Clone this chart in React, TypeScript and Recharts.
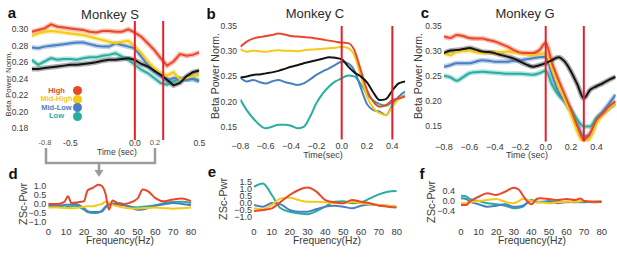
import React from "react";
import { LineChart, Line, XAxis, YAxis, ReferenceLine } from "recharts";

// colours of the four conditions, the mean trace and the event markers
const HIGH = "#ea4728";
const MID_HIGH = "#f5c916";
const MID_LOW = "#4a7fc3";
const LOW = "#28aea0";
const MEAN = "#141414";
const MARK = "#e2202b";

// ---- time courses (sec) ----
const timeAB = [
  -0.8, -0.75, -0.7, -0.65, -0.6, -0.55, -0.5, -0.45, -0.4, -0.35, -0.3, -0.25, -0.2, -0.15,
  -0.1, -0.05, 0, 0.05, 0.1, 0.15, 0.2, 0.25, 0.3, 0.35, 0.4, 0.45, 0.5,
];
const timeC = [
  -0.8, -0.75, -0.7, -0.65, -0.6, -0.55, -0.5, -0.45, -0.4, -0.35, -0.3, -0.25, -0.2, -0.15,
  -0.1, -0.05, 0, 0.05, 0.1, 0.15, 0.2, 0.25, 0.3, 0.35, 0.4, 0.45, 0.5, 0.55,
];

// Monkey S
const sHigh = [0.297, 0.299, 0.301, 0.306, 0.303, 0.302, 0.301, 0.3, 0.299, 0.297, 0.296, 0.298, 0.298, 0.297, 0.297, 0.3, 0.296, 0.291, 0.283, 0.275, 0.265, 0.256, 0.261, 0.27, 0.268, 0.269, 0.272];
const sMidHigh = [0.292, 0.295, 0.297, 0.298, 0.297, 0.296, 0.295, 0.294, 0.293, 0.291, 0.289, 0.287, 0.285, 0.283, 0.285, 0.286, 0.279, 0.271, 0.261, 0.253, 0.247, 0.244, 0.248, 0.239, 0.241, 0.243, 0.245];
const sMidLow = [0.278, 0.277, 0.279, 0.28, 0.281, 0.282, 0.283, 0.284, 0.284, 0.282, 0.28, 0.279, 0.279, 0.283, 0.281, 0.279, 0.277, 0.267, 0.257, 0.249, 0.243, 0.238, 0.241, 0.24, 0.239, 0.24, 0.237];
const sLow = [0.263, 0.257, 0.261, 0.265, 0.263, 0.264, 0.264, 0.263, 0.265, 0.266, 0.266, 0.268, 0.269, 0.271, 0.267, 0.263, 0.257, 0.251, 0.247, 0.241, 0.235, 0.233, 0.237, 0.24, 0.239, 0.24, 0.238];
const sMean = [0.252, 0.252, 0.253, 0.254, 0.255, 0.256, 0.257, 0.257, 0.258, 0.259, 0.26, 0.262, 0.263, 0.263, 0.264, 0.265, 0.263, 0.258, 0.255, 0.25, 0.245, 0.239, 0.232, 0.235, 0.243, 0.248, 0.25];

// Monkey C
const cHigh = [0.309, 0.319, 0.325, 0.328, 0.33, 0.332, 0.335, 0.333, 0.33, 0.329, 0.328, 0.327, 0.325, 0.323, 0.321, 0.319, 0.317, 0.316, 0.302, 0.263, 0.223, 0.2, 0.19, 0.193, 0.203, 0.206, 0.21];
const cMidHigh = [0.304, 0.299, 0.301, 0.3, 0.299, 0.301, 0.302, 0.301, 0.301, 0.3, 0.302, 0.303, 0.304, 0.305, 0.306, 0.307, 0.309, 0.306, 0.292, 0.252, 0.21, 0.187, 0.177, 0.173, 0.19, 0.205, 0.212];
const cMidLow = [0.248, 0.24, 0.243, 0.239, 0.236, 0.24, 0.243, 0.239, 0.236, 0.233, 0.236, 0.244, 0.253, 0.26, 0.266, 0.273, 0.279, 0.276, 0.262, 0.228, 0.195, 0.183, 0.18, 0.173, 0.193, 0.21, 0.22];
const cLow = [0.204, 0.183, 0.167, 0.154, 0.147, 0.15, 0.154, 0.154, 0.152, 0.147, 0.15, 0.17, 0.197, 0.216, 0.23, 0.24, 0.246, 0.252, 0.25, 0.235, 0.215, 0.202, 0.195, 0.192, 0.199, 0.207, 0.213];
const cMean = [0.248, 0.25, 0.253, 0.254, 0.256, 0.258, 0.261, 0.265, 0.269, 0.272, 0.276, 0.279, 0.282, 0.285, 0.288, 0.287, 0.284, 0.27, 0.258, 0.25, 0.238, 0.218, 0.203, 0.205, 0.222, 0.236, 0.24];

// Monkey G
const gHigh = [0.329, 0.326, 0.332, 0.33, 0.326, 0.325, 0.325, 0.322, 0.319, 0.314, 0.309, 0.302, 0.297, 0.296, 0.296, 0.302, 0.316, 0.276, 0.243, 0.213, 0.183, 0.15, 0.123, 0.137, 0.163, 0.176, 0.19, 0.2];
const gMidHigh = [0.296, 0.292, 0.299, 0.3, 0.301, 0.298, 0.296, 0.297, 0.297, 0.298, 0.299, 0.297, 0.296, 0.294, 0.292, 0.294, 0.296, 0.263, 0.23, 0.203, 0.173, 0.14, 0.118, 0.127, 0.157, 0.173, 0.186, 0.196];
const gMidLow = [0.269, 0.272, 0.276, 0.276, 0.276, 0.279, 0.282, 0.281, 0.279, 0.279, 0.279, 0.281, 0.282, 0.284, 0.286, 0.288, 0.289, 0.253, 0.219, 0.2, 0.18, 0.153, 0.13, 0.133, 0.163, 0.18, 0.196, 0.213];
const gLow = [0.251, 0.248, 0.241, 0.248, 0.256, 0.258, 0.259, 0.258, 0.257, 0.256, 0.255, 0.255, 0.255, 0.254, 0.253, 0.256, 0.261, 0.233, 0.213, 0.2, 0.183, 0.163, 0.15, 0.15, 0.167, 0.176, 0.186, 0.195];
const gMean = [0.296, 0.301, 0.302, 0.304, 0.306, 0.303, 0.299, 0.298, 0.296, 0.292, 0.289, 0.285, 0.279, 0.273, 0.269, 0.272, 0.276, 0.282, 0.288, 0.279, 0.259, 0.233, 0.206, 0.223, 0.23, 0.236, 0.243, 0.249];

// ---- spectra, z-scored power ----
const freqS = [0, 5, 9, 11, 13, 15, 20, 22, 25, 28, 30, 32, 34, 36, 40, 45, 50, 53, 56, 60, 65, 70, 75, 80];
const zsHigh = [0.0, 0.0, 0.12, 0.43, 0.05, 0.08, 0.15, 0.75, 0.9, 1.07, 1.0, 0.6, -0.32, 0.2, -0.02, 0.05, 0.3, 0.8, 0.7, 0.33, 0.15, 0.25, 0.3, 0.15];
const zsMidHigh = [-0.19, -0.19, -0.22, -0.23, -0.23, -0.23, -0.15, -0.13, -0.13, -0.05, 0.0, 0.12, 0.1, -0.05, -0.15, -0.23, -0.25, -0.23, -0.22, -0.2, -0.23, -0.26, -0.23, -0.19];
const zsMidLow = [-0.07, -0.1, -0.05, -0.04, -0.02, 0.0, -0.23, -0.4, -0.45, -0.45, -0.42, -0.2, 0.0, 0.0, -0.04, -0.13, -0.32, -0.3, -0.23, -0.1, -0.02, 0.06, 0.0, -0.07];
const zsLow = [-0.13, -0.08, -0.19, -0.15, -0.12, -0.1, -0.32, -0.45, -0.5, -0.48, -0.37, -0.15, -0.05, 0.02, 0.06, -0.13, -0.19, -0.15, -0.13, -0.07, 0.06, 0.11, 0.13, 0.06];

const freqC = [0, 5, 10, 15, 20, 25, 30, 35, 40, 45, 50, 55, 60, 65, 70, 75, 80];
const zcHigh = [-0.57, -0.5, -0.38, 0.09, 0.57, 0.93, 1.1, 0.81, 0.21, 0.05, -0.02, 0.21, 0.09, -0.02, -0.19, -0.26, -0.33];
const zcMidHigh = [-0.38, -0.45, -0.14, 0.33, 0.38, 0.21, 0.09, 0.09, 0.05, -0.02, -0.02, 0.09, -0.02, -0.07, -0.14, -0.19, -0.26];
const zcMidLow = [-0.14, -0.26, 0.0, -0.1, -0.5, -0.62, -0.62, -0.43, -0.26, -0.19, -0.26, -0.38, -0.19, -0.1, -0.14, -0.19, -0.26];
const zcLow = [1.16, 1.4, 0.57, -0.38, -0.62, -0.74, -0.81, -0.57, -0.26, 0.09, 0.12, -0.02, 0.05, 0.33, 0.62, 0.81, 0.86];

const freqG = [0, 3, 5, 10, 15, 20, 25, 30, 33, 35, 40, 43, 45, 50, 55, 60, 65, 68, 70, 75, 80];
const zgHigh = [-0.16, -0.16, -0.03, 0.17, 0.31, 0.24, 0.37, 0.53, 0.45, 0.24, -0.13, 0.08, 0.11, 0.08, 0.04, 0.08, 0.04, 0.1, 0.0, -0.03, -0.03];
const zgMidHigh = [-0.09, -0.08, -0.05, 0.0, 0.04, 0.08, -0.03, -0.09, 0.0, 0.08, 0.0, -0.05, -0.05, -0.09, -0.05, -0.03, -0.03, -0.01, 0.0, -0.03, 0.0];
const zgMidLow = [0.11, 0.08, -0.03, -0.13, -0.23, -0.19, -0.13, -0.23, -0.22, -0.19, 0.0, -0.05, -0.05, -0.03, -0.09, -0.03, -0.05, -0.03, -0.03, -0.05, -0.03];
const zgLow = [0.21, 0.18, 0.08, 0.0, -0.09, -0.13, -0.19, -0.29, -0.27, -0.23, 0.04, -0.02, -0.03, 0.0, -0.03, -0.05, -0.03, -0.05, -0.05, -0.03, -0.03];

const legendItems = [
  { label: "High", color: HIGH },
  { label: "Mid-High", color: MID_HIGH },
  { label: "Mid-Low", color: MID_LOW },
  { label: "Low", color: LOW },
];

const SERIES = [
  { key: "low", color: LOW },
  { key: "midLow", color: MID_LOW },
  { key: "midHigh", color: MID_HIGH },
  { key: "high", color: HIGH },
];

function buildRows(x: number[], cols: Record<string, number[]>) {
  return x.map((v, i) => {
    const row: Record<string, number> = { x: v };
    for (const k of Object.keys(cols)) row[k] = cols[k][i];
    return row;
  });
}

const minus = (s: string) => s.replace("-", "\u2212");

interface PanelProps {
  left: number;
  top: number;
  width: number;
  height: number;
  margin: { top: number; right: number; bottom: number; left: number };
  yWidth: number;
  xHeight: number;
  rows: Record<string, number>[];
  xDomain: [number, number];
  xTicks: number[];
  xFmt: (v: number) => string;
  xTickMargin: number;
  xFont: number;
  yDomain: [number, number];
  yTicks: number[];
  yFmt: (v: number) => string;
  yTickMargin: number;
  yFont: number;
  marks?: number[];
  withMean?: boolean;
  halo?: boolean;
  curve?: "linear" | "monotone";
}

function Panel(p: PanelProps) {
  const series = p.withMean ? [...SERIES, { key: "mean", color: MEAN }] : SERIES;
  return (
    <div style={{ position: "absolute", left: p.left, top: p.top }}>
      <LineChart width={p.width} height={p.height} data={p.rows} margin={p.margin}>
        <XAxis
          dataKey="x"
          type="number"
          domain={p.xDomain}
          ticks={p.xTicks}
          interval={0}
          allowDataOverflow
          axisLine={false}
          tickLine={false}
          tickSize={0}
          tickMargin={p.xTickMargin}
          height={p.xHeight}
          tick={{ fontSize: p.xFont, fill: "#3a3a3a" }}
          tickFormatter={p.xFmt}
        />
        <YAxis
          type="number"
          domain={p.yDomain}
          ticks={p.yTicks}
          interval={0}
          allowDataOverflow
          axisLine={false}
          tickLine={false}
          tickSize={0}
          tickMargin={p.yTickMargin}
          width={p.yWidth}
          tick={{ fontSize: p.yFont, fill: "#3a3a3a" }}
          tickFormatter={p.yFmt}
        />
        {p.halo &&
          series.map((s) => (
            <Line
              key={`halo-${s.key}`}
              type={p.curve ?? "monotone"}
              dataKey={s.key}
              stroke={s.color}
              strokeOpacity={0.35}
              strokeWidth={5}
              dot={false}
              activeDot={false}
              isAnimationActive={false}
            />
          ))}
        {series.map((s) => (
          <Line
            key={s.key}
            type={p.curve ?? "monotone"}
            dataKey={s.key}
            stroke={s.color}
            strokeWidth={2}
            dot={false}
            activeDot={false}
            isAnimationActive={false}
          />
        ))}
        {(p.marks ?? []).map((m) => (
          <ReferenceLine key={`m${m}`} x={m} stroke={MARK} strokeWidth={2} />
        ))}
      </LineChart>
    </div>
  );
}

function Txt(props: {
  x: number;
  y: number;
  size: number;
  children: React.ReactNode;
  bold?: boolean;
  color?: string;
  rotate?: boolean;
}) {
  return (
    <div
      style={{
        position: "absolute",
        left: props.x,
        top: props.y,
        transform: `translate(-50%, -50%)${props.rotate ? " rotate(-90deg)" : ""}`,
        fontSize: props.size,
        fontWeight: props.bold ? 700 : 400,
        color: props.color ?? "#2a2a2a",
        whiteSpace: "nowrap",
        lineHeight: 1,
      }}
    >
      {props.children}
    </div>
  );
}

export default function App() {
  const rowsS = buildRows(timeAB, { high: sHigh, midHigh: sMidHigh, midLow: sMidLow, low: sLow, mean: sMean });
  const rowsC = buildRows(timeAB, { high: cHigh, midHigh: cMidHigh, midLow: cMidLow, low: cLow, mean: cMean });
  const rowsG = buildRows(timeC, { high: gHigh, midHigh: gMidHigh, midLow: gMidLow, low: gLow, mean: gMean });
  const specS = buildRows(freqS, { high: zsHigh, midHigh: zsMidHigh, midLow: zsMidLow, low: zsLow });
  const specC = buildRows(freqC, { high: zcHigh, midHigh: zcMidHigh, midLow: zcMidLow, low: zcLow });
  const specG = buildRows(freqG, { high: zgHigh, midHigh: zgMidHigh, midLow: zgMidLow, low: zgLow });

  const freqTicks = [0, 10, 20, 30, 40, 50, 60, 70, 80];
  const timeTicks = [-0.8, -0.6, -0.4, -0.2, 0, 0.2, 0.4];
  const f1 = (v: number) => minus(v.toFixed(1));
  const f2 = (v: number) => v.toFixed(2);
  const fInt = (v: number) => String(v);

  return (
    <div
      style={{
        position: "absolute",
        left: 0,
        top: 0,
        width: 617,
        height: 257,
        background: "#fff",
        overflow: "hidden",
        fontFamily: '"Liberation Sans", Arial, Helvetica, sans-serif',
      }}
    >
      {/* a */}
      <Panel
        left={0}
        top={0}
        width={206}
        height={160}
        margin={{ top: 21, right: 6.7, bottom: 0, left: 0 }}
        yWidth={31.7}
        xHeight={20}
        rows={rowsS}
        xDomain={[-0.8, 0.5]}
        xTicks={[-0.5, 0, 0.5]}
        xFmt={(v) => v.toFixed(1)}
        xTickMargin={0}
        xFont={8.5}
        yDomain={[0.166, 0.31]}
        yTicks={[0.18, 0.2, 0.22, 0.24, 0.26, 0.28, 0.3]}
        yFmt={f2}
        yTickMargin={3.5}
        yFont={8.5}
        marks={[0, 0.22]}
        withMean
        halo
        curve="linear"
      />
      {/* b */}
      <Panel
        left={200}
        top={0}
        width={210}
        height={160}
        margin={{ top: 26, right: 5, bottom: 0, left: 0 }}
        yWidth={40.4}
        xHeight={20.6}
        rows={rowsC}
        xDomain={[-0.8, 0.5]}
        xTicks={timeTicks}
        xFmt={f1}
        xTickMargin={3}
        xFont={9}
        yDomain={[0.125, 0.35]}
        yTicks={[0.15, 0.2, 0.25, 0.3, 0.35]}
        yFmt={f2}
        yTickMargin={3.4}
        yFont={8.5}
        marks={[0, 0.4]}
        withMean
        curve="monotone"
      />
      {/* c */}
      <Panel
        left={405}
        top={0}
        width={212}
        height={160}
        margin={{ top: 26, right: 1.4, bottom: 0, left: 0 }}
        yWidth={39}
        xHeight={18.5}
        rows={rowsG}
        xDomain={[-0.8, 0.55]}
        xTicks={timeTicks}
        xFmt={f1}
        xTickMargin={2}
        xFont={9}
        yDomain={[0.12, 0.35]}
        yTicks={[0.15, 0.2, 0.25, 0.3, 0.35]}
        yFmt={f2}
        yTickMargin={2.3}
        yFont={8.5}
        marks={[0, 0.3]}
        withMean
        halo
        curve="monotone"
      />
      {/* d */}
      <Panel
        left={0}
        top={175}
        width={200}
        height={70}
        margin={{ top: 8.3, right: 9, bottom: 0, left: 0 }}
        yWidth={48.3}
        xHeight={23}
        rows={specS}
        xDomain={[0, 80]}
        xTicks={freqTicks}
        xFmt={fInt}
        xTickMargin={6.4}
        xFont={9.5}
        yDomain={[-1, 1.15]}
        yTicks={[-1, -0.5, 0, 0.5, 1]}
        yFmt={f1}
        yTickMargin={2}
        yFont={9}
        curve="monotone"
      />
      {/* e */}
      <Panel
        left={205}
        top={175}
        width={200}
        height={70}
        margin={{ top: 7, right: 8.3, bottom: 0, left: 0 }}
        yWidth={49}
        xHeight={28}
        rows={specC}
        xDomain={[0, 80]}
        xTicks={freqTicks}
        xFmt={fInt}
        xTickMargin={11.4}
        xFont={9.5}
        yDomain={[-1, 1.5]}
        yTicks={[-1, -0.5, 0, 0.5, 1, 1.5]}
        yFmt={f1}
        yTickMargin={2}
        yFont={9}
        curve="monotone"
      />
      {/* f */}
      <Panel
        left={410}
        top={175}
        width={207}
        height={70}
        margin={{ top: 11, right: 15.3, bottom: 0, left: 0 }}
        yWidth={51}
        xHeight={34}
        rows={specG}
        xDomain={[0, 80]}
        xTicks={freqTicks}
        xFmt={fInt}
        xTickMargin={17.4}
        xFont={9.5}
        yDomain={[-0.4, 0.6]}
        yTicks={[-0.4, 0, 0.4]}
        yFmt={f1}
        yTickMargin={6}
        yFont={9}
        curve="monotone"
      />

      {/* panel letters and titles */}
      <Txt x={12} y={12} size={15} bold color="#111">a</Txt>
      <Txt x={211} y={13} size={15} bold color="#111">b</Txt>
      <Txt x={425} y={12} size={15} bold color="#111">c</Txt>
      <Txt x={13} y={173} size={15} bold color="#111">d</Txt>
      <Txt x={212} y={171} size={15} bold color="#111">e</Txt>
      <Txt x={422} y={173} size={15} bold color="#111">f</Txt>
      <Txt x={110} y={14} size={13}>Monkey S</Txt>
      <Txt x={315} y={13} size={13}>Monkey C</Txt>
      <Txt x={525} y={13} size={13}>Monkey G</Txt>

      {/* axis titles */}
      <Txt x={8.5} y={84} size={8} rotate color="#3a3a3a">Beta Power Norm.</Txt>
      <Txt x={215} y={76} size={10.5} rotate color="#3a3a3a">Beta Power Norm.</Txt>
      <Txt x={418} y={76} size={10.5} rotate color="#3a3a3a">Beta Power Norm.</Txt>
      <Txt x={117} y={152} size={8.5} color="#3a3a3a">Time (sec)</Txt>
      <Txt x={323} y={155} size={9} color="#3a3a3a">Time(sec)</Txt>
      <Txt x={527} y={155} size={9} color="#3a3a3a">Time (sec)</Txt>
      <Txt x={22.5} y={204} size={11} rotate color="#3a3a3a">ZSc-Pwr</Txt>
      <Txt x={223} y={199} size={11} rotate color="#3a3a3a">ZSc-Pwr</Txt>
      <Txt x={431} y={202} size={11} rotate color="#3a3a3a">ZSc-Pwr</Txt>
      <Txt x={120} y={241} size={10.3} color="#3a3a3a">Frequency(Hz)</Txt>
      <Txt x={327} y={241} size={10.3} color="#3a3a3a">Frequency(Hz)</Txt>
      <Txt x={532} y={241} size={10.3} color="#3a3a3a">Frequency(Hz)</Txt>

      {/* legend of panel a */}
      {legendItems.map((item, i) => (
        <React.Fragment key={item.label}>
          <Txt x={56.5} y={90.5 + i * 8.6} size={7.5} bold color={item.color}>
            {item.label}
          </Txt>
          <div
            style={{
              position: "absolute",
              left: 77.3 - 4.5,
              top: 90.5 + i * 8.6 - 4.5,
              width: 9,
              height: 9,
              borderRadius: "50%",
              background: item.color,
            }}
          />
        </React.Fragment>
      ))}

      {/* window used for the spectra */}
      <svg
        width={617}
        height={257}
        style={{ position: "absolute", left: 0, top: 0, pointerEvents: "none" }}
      >
        <text x={45} y={145} fontSize={7.5} fill="#555" textAnchor="middle">-0.8</text>
        <text x={155} y={145} fontSize={7.5} fill="#555" textAnchor="middle">0.2</text>
        <polyline points="46,148 46,163 155,163 155,148" fill="none" stroke="#9b9b9b" strokeWidth={2.5} />
        <line x1={99} y1={163} x2={99} y2={171} stroke="#9b9b9b" strokeWidth={2.5} />
        <polygon points="94.5,170 103.5,170 99,177" fill="#9b9b9b" />
      </svg>
    </div>
  );
}
